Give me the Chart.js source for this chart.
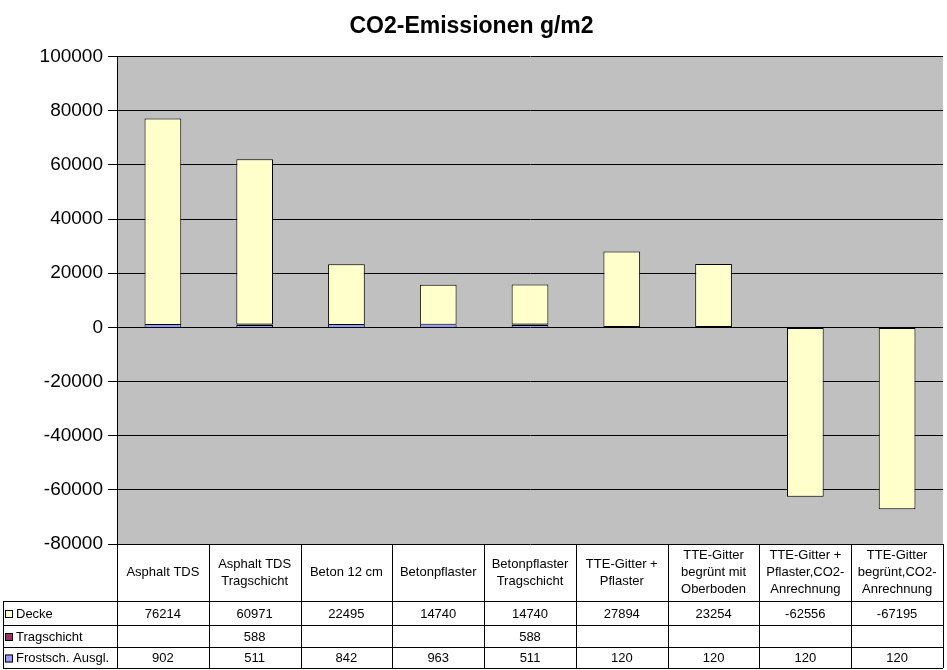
<!DOCTYPE html>
<html>
<head>
<meta charset="utf-8">
<script src="https://cdn.jsdelivr.net/npm/chart.js@4"></script>
<style>
  html, body { margin: 0; padding: 0; background: #fff; }
  #wrap { width: 947px; height: 670px; }
</style>
</head>
<body>
<div id="wrap"><canvas id="co2"></canvas></div>
<script>
// Kategorien (Zeilen im Tabellenkopf)
const categories = [
    ['Asphalt TDS'],
    ['Asphalt TDS', 'Tragschicht'],
    ['Beton 12 cm'],
    ['Betonpflaster'],
    ['Betonpflaster', 'Tragschicht'],
    ['TTE-Gitter +', 'Pflaster'],
    ['TTE-Gitter', 'begrünt mit', 'Oberboden'],
    ['TTE-Gitter +', 'Pflaster,CO2-', 'Anrechnung'],
    ['TTE-Gitter', 'begrünt,CO2-', 'Anrechnung']
];

const decke = [76214, 60971, 22495, 14740, 14740, 27894, 23254, -62556, -67195];
const tragschicht = [null, 588, null, null, 588, null, null, null, null];
const frostschutz = [902, 511, 842, 963, 511, 120, 120, 120, 120];

const yTicks = { min: -80000, max: 100000, step: 20000 };

const FONT = '"Liberation Sans", Arial, sans-serif';

// Reihenfolge in der Tabelle
const tableRows = [
    { label: 'Decke', data: decke, color: '#FFFFCC' },
    { label: 'Tragschicht', data: tragschicht, color: '#993366' },
    { label: 'Frostsch. Ausgl.', data: frostschutz, color: '#9999FF' }
];

const plotBackground = {
    id: 'plotBackground',
    beforeDraw(chart) {
        const { ctx, chartArea: a } = chart;
        ctx.save();
        ctx.fillStyle = '#C0C0C0';
        ctx.fillRect(a.left, a.top, a.right - a.left, a.bottom - a.top);
        ctx.restore();
    }
};

// Datentabelle unter dem Diagramm
const dataTable = {
    id: 'dataTable',
    afterDraw(chart) {
        const { ctx, chartArea: a } = chart;
        const x = chart.scales.x;
        const n = categories.length;
        const cw = (x.right - x.left) / n;
        const headerBottom = a.bottom + 57;
        const rowH = [24, 22, 21];
        const tableLeft = 3;

        ctx.save();
        ctx.strokeStyle = '#000';
        ctx.lineWidth = 1;

        // horizontale Linien
        let yy = headerBottom;
        const rowTops = [];
        ctx.beginPath();
        ctx.moveTo(tableLeft, yy + 0.5);
        ctx.lineTo(a.right, yy + 0.5);
        rowTops.push(yy);
        rowH.forEach(h => {
            yy += h;
            rowTops.push(yy);
            ctx.moveTo(tableLeft, yy + 0.5);
            ctx.lineTo(a.right, yy + 0.5);
        });
        const tableBottom = yy;

        // vertikale Linien
        ctx.moveTo(tableLeft + 0.5, headerBottom);
        ctx.lineTo(tableLeft + 0.5, tableBottom);
        for (let i = 0; i <= n; i++) {
            const px = Math.round(x.left + i * cw) + 0.5;
            ctx.moveTo(px, a.bottom);
            ctx.lineTo(px, tableBottom);
        }
        ctx.stroke();

        ctx.fillStyle = '#000';
        ctx.font = '13px ' + FONT;
        ctx.textAlign = 'center';
        ctx.textBaseline = 'middle';

        // Kopfzeile
        const headerMid = (a.bottom + headerBottom) / 2;
        categories.forEach((lines, i) => {
            const cx = x.getPixelForValue(i);
            const lh = 17;
            const start = headerMid - (lines.length - 1) * lh / 2;
            lines.forEach((t, k) => ctx.fillText(t, cx, start + k * lh));
        });

        // Datenzeilen
        tableRows.forEach((row, r) => {
            const cy = (rowTops[r] + rowTops[r + 1]) / 2 + 1;
            ctx.textAlign = 'left';
            ctx.fillStyle = row.color;
            ctx.fillRect(5, cy - 4, 8, 8);
            ctx.strokeStyle = '#000';
            ctx.strokeRect(5.5, cy - 3.5, 7, 7);
            ctx.fillStyle = '#000';
            ctx.fillText(row.label, 16, cy);
            ctx.textAlign = 'center';
            row.data.forEach((v, i) => {
                if (v === null) return;
                ctx.fillText(String(v), x.getPixelForValue(i), cy);
            });
        });
        ctx.restore();
    }
};

const ctx = document.getElementById('co2').getContext('2d');
new Chart(ctx, {
    type: 'bar',
    data: {
        labels: categories.map(c => c.join(' ')),
        datasets: [
            { label: 'Frostsch. Ausgl.', data: frostschutz, backgroundColor: '#9999FF',
              borderWidth: { left: 1, right: 1, top: 0, bottom: 0 } },
            { label: 'Tragschicht', data: tragschicht, backgroundColor: '#993366', borderWidth: 1 },
            { label: 'Decke', data: decke, backgroundColor: '#FFFFCC', borderWidth: 1 }
        ].map(d => Object.assign(d, {
            borderColor: '#000',
            borderSkipped: false,
            categoryPercentage: 1,
            barPercentage: 0.4
        }))
    },
    options: {
        responsive: true,
        maintainAspectRatio: false,
        animation: false,
        layout: { padding: { left: 0, right: 4, top: 0, bottom: 126 } },
        plugins: {
            legend: { display: false },
            tooltip: { enabled: false },
            title: {
                display: true,
                text: 'CO2-Emissionen g/m2',
                color: '#000',
                font: { family: FONT, size: 23, weight: 'bold' },
                padding: { top: 13, bottom: 16 }
            }
        },
        scales: {
            x: {
                stacked: true,
                display: false,
                offset: true
            },
            y: {
                stacked: true,
                min: yTicks.min,
                max: yTicks.max,
                afterFit(scale) { scale.width = 117; },
                ticks: {
                    stepSize: yTicks.step,
                    color: '#000',
                    padding: 5,
                    font: { family: FONT, size: 19 },
                    callback: v => String(v)
                },
                grid: {
                    color: '#000',
                    lineWidth: 1,
                    drawTicks: true,
                    tickLength: 9
                },
                border: { color: '#000', width: 1 }
            }
        }
    },
    plugins: [plotBackground, dataTable]
});
</script>
</body>
</html>
